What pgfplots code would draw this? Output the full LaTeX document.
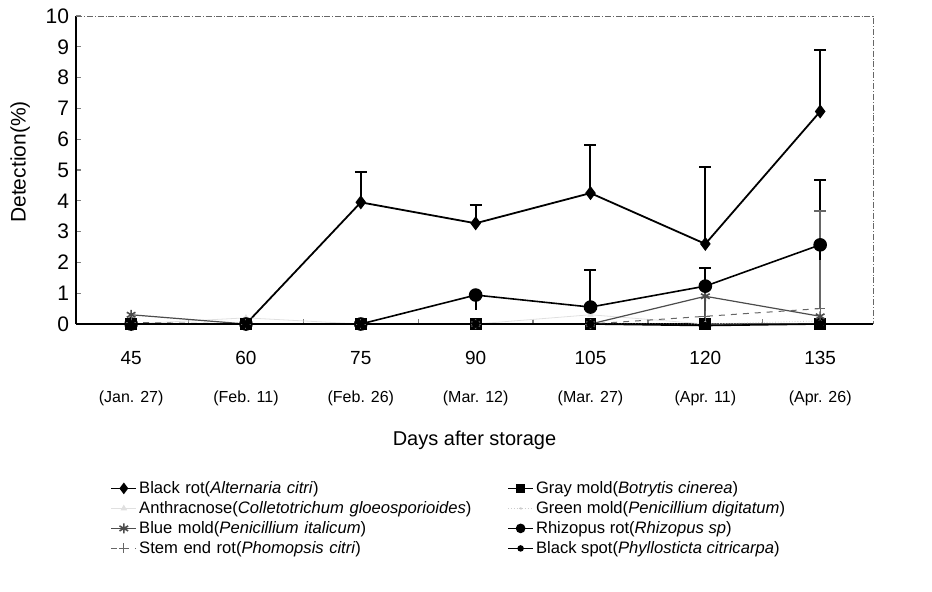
\documentclass[border=0pt]{standalone}
\usepackage{fontspec}
\setmainfont{Liberation Sans}
\usepackage{pgfplots}
\pgfplotsset{compat=1.18}
\usetikzlibrary{plotmarks}
\begin{document}
\begin{tikzpicture}
\useasboundingbox (0,0) rectangle (466pt,295.5pt);
\begin{axis}[
  at={(38pt,133.5pt)}, anchor=south west,
  scale only axis, width=398.5pt, height=154pt,
  xmin=37.8, xmax=141.9, ymin=0, ymax=10,
  axis x line*=bottom, axis y line*=left,
  axis line style={line width=0.8pt},
  clip=false,
  xtick={45,60,75,90,105,120,135},
  xticklabels={45\\[9pt]{\fontsize{8}{9}\selectfont(Jan. 27)},
               60\\[9pt]{\fontsize{8}{9}\selectfont(Feb. 11)},
               75\\[9pt]{\fontsize{8}{9}\selectfont(Feb. 26)},
               90\\[9pt]{\fontsize{8}{9}\selectfont(Mar. 12)},
               105\\[9pt]{\fontsize{8}{9}\selectfont(Mar. 27)},
               120\\[9pt]{\fontsize{8}{9}\selectfont(Apr. 11)},
               135\\[9pt]{\fontsize{8}{9}\selectfont(Apr. 26)}},
  xticklabel style={align=center, anchor=north, yshift=-10pt, font=\fontsize{9.5}{10}\selectfont},
  ytick={0,...,10},
  minor xtick={52.5,67.5,82.5,97.5,112.5,127.5},
  minor ytick={0,...,10},
  major tick length=0pt, minor tick length=2.5pt,
  minor tick style={line width=0.6pt},
  yticklabel style={font=\fontsize{10.5}{12}\selectfont},
  /pgf/number format/assume math mode=true,
  ylabel={Detection(\%)},
  ylabel style={at={(axis description cs:-0.07,0.526)}, anchor=center, font=\fontsize{10.5}{12}\selectfont},
  xlabel={Days after storage},
  xlabel style={at={(axis description cs:0.5,-0.377)}, anchor=center, font=\fontsize{10}{12}\selectfont},
  legend columns=2,
  legend cell align=left,
  legend image code/.code={\draw[mark repeat=2,mark phase=2,#1] plot coordinates {(0pt,0pt)(6.25pt,0pt)(12.5pt,0pt)};},
  legend style={at={(axis description cs:0.0427,-0.5)}, anchor=north west, draw=none, fill=none,
    inner sep=0pt, font=\fontsize{8.3}{9}\selectfont, row sep=0pt,
    nodes={inner sep=1pt, text height=6.5pt, text depth=1.5pt},
    /tikz/column 2/.style={text width=183pt}},
]
% Black rot
\addplot[black, line width=0.9pt, mark=diamond*, mark size=2.8pt,
  legend image post style={mark size=2.2pt},
  error bars/.cd, y dir=plus, y explicit,
  error bar style={line width=1pt},
  error mark options={rotate=90, mark size=3pt, line width=1pt}]
  coordinates {(45,0) (60,0) (75,3.95) +- (0,1.0) (90,3.27) +- (0,0.58) (105,4.25) +- (0,1.57) (120,2.6) +- (0,2.5) (135,6.9) +- (0,2.0)};
\addlegendentry{Black rot(\textit{Alternaria citri})}
% Gray mold
\addplot[black, line width=0.9pt, mark=square*, mark size=2.5pt,
  legend image post style={mark size=1.8pt, draw=none}]
  coordinates {(45,0) (60,0) (75,0) (90,0) (105,0) (120,0) (135,0)};
\addlegendentry{Gray mold(\textit{Botrytis cinerea})}
% Anthracnose
\addplot[black!12, line width=0.4pt, mark=triangle*, mark size=1.5pt]
  coordinates {(45,0) (60,0.2) (75,0) (90,0) (105,0.3) (120,0) (135,0)};
\addlegendentry{Anthracnose(\textit{Colletotrichum gloeosporioides})}
% Green mold
\addplot[black!20, line width=0.4pt, densely dotted, mark=*, mark size=0.6pt]
  coordinates {(45,0) (60,0) (75,0) (90,0) (105,0) (120,0) (135,0.1)};
\addlegendentry{Green mold(\textit{Penicillium digitatum})}
% Blue mold
\addplot[black!70, line width=0.6pt, mark=asterisk, mark size=2.5pt, mark options={solid, line width=0.8pt},
  error bars/.cd, y dir=both, y explicit,
  error bar style={line width=1pt},
  error mark=none]
  coordinates {(45,0.3) (60,0) (75,0) (90,0) (105,0) (120,0.9) +- (0,0.8) (135,0.25)};
\addlegendentry{Blue mold(\textit{Penicillium italicum})}
% Rhizopus rot
\addplot[black, line width=0.8pt, mark=*, mark size=3pt,
  legend image post style={mark size=2pt},
  error bars/.cd, y dir=plus, y explicit,
  error bar style={line width=1pt},
  error mark options={rotate=90, mark size=3pt, line width=1pt}]
  coordinates {(45,0) (60,0) (75,0) (90,0.94) (105,0.55) +- (0,1.2) (120,1.23) +- (0,0.6) (135,2.57) +- (0,2.1)};
\addlegendentry{Rhizopus rot(\textit{Rhizopus sp})}
% Stem end rot
\addplot[black!60, line width=0.5pt, dashed, mark=+, mark size=2.5pt, mark options={solid},
  error bars/.cd, y dir=plus, y explicit,
  error bar style={line width=0.8pt, solid},
  error mark options={rotate=90, mark size=3pt, line width=0.8pt}]
  coordinates {(45,0.05) (60,0) (75,0) (90,0) (105,0) (120,0.25) (135,0.5) +- (0,3.17)};
\addlegendentry{Stem end rot(\textit{Phomopsis citri})}
% Black spot
\addplot[black, line width=0.8pt, mark=*, mark size=1.5pt,
  legend image post style={mark size=1.2pt}]
  coordinates {(45,0) (60,0) (75,0) (90,0) (105,0) (120,-0.05) (135,0)};
\addlegendentry{Black spot(\textit{Phyllosticta citricarpa})}
% Rhizopus lower bars (no caps)
\addplot[forget plot, draw=none, mark=none,
  error bars/.cd, y dir=minus, y explicit,
  error bar style={line width=1pt}, error mark=none]
  coordinates {(90,0.94) +- (0,0.5) (135,2.57) +- (0,0.5)};
% top and right frame
\draw[black!60, densely dash dot, line width=0.4pt] (rel axis cs:0,1) -- (rel axis cs:1,1) -- (rel axis cs:1,0);
\end{axis}
\end{tikzpicture}
\end{document}
